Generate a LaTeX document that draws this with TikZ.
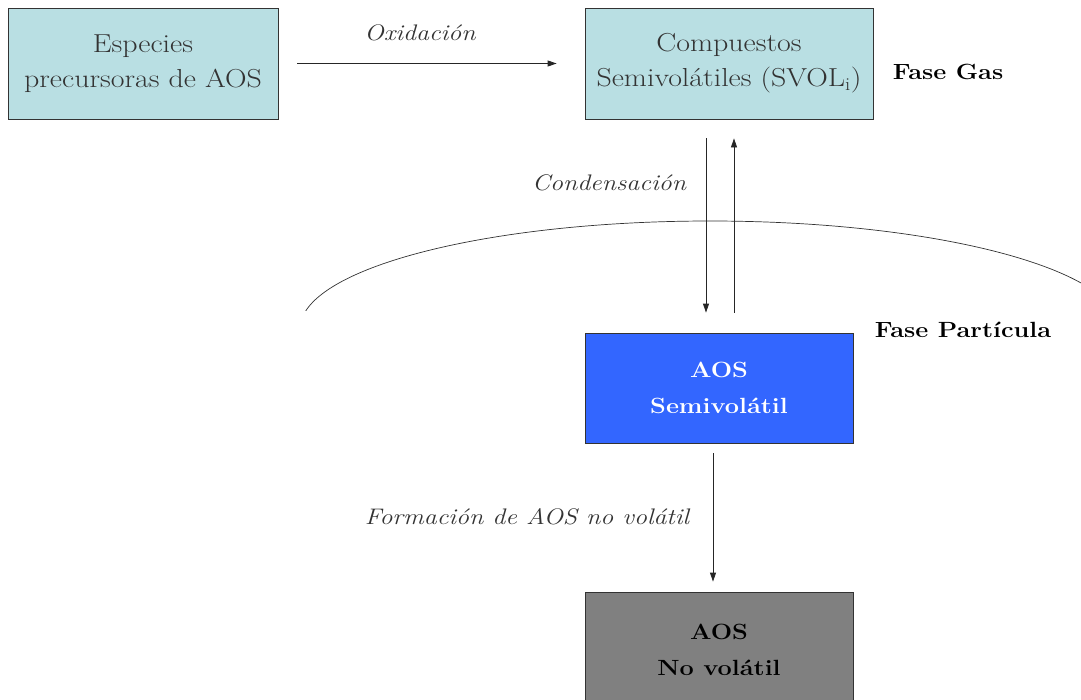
\documentclass[tikz,border=0pt]{standalone}
\usepackage{fontspec}
\setmainfont{Latin Modern Roman}[FakeStretch=1.15]
\usetikzlibrary{arrows.meta}
\definecolor{boxcyan}{HTML}{B9DFE3}
\definecolor{boxblue}{HTML}{3366FF}
\definecolor{boxgray}{HTML}{808080}
\definecolor{txtgray}{HTML}{333333}
\tikzset{
  box/.style={draw=black!80, line width=0.8pt, align=center, inner sep=0pt},
  gasbox/.style={box, fill=boxcyan, text=txtgray, font=\fontsize{26}{35}\selectfont},
  partbox/.style={box, font=\bfseries\fontsize{22}{36}\selectfont},
  arr/.style={line width=0.8pt, draw=black!85, -{Triangle[length=9pt,width=6pt]}},
  lbl/.style={text=txtgray, font=\itshape\fontsize{22.5}{26}\selectfont},
  phase/.style={text=black, font=\bfseries\fontsize{22}{26}\selectfont}
}
\begin{document}
\begin{tikzpicture}[x=1pt,y=-1pt]
\useasboundingbox (0,0) rectangle (1081,699);
\node[gasbox, minimum width=270pt, minimum height=111pt] (b1) at (143,63.5) {Especies\\precursoras de AOS};
\node[gasbox, minimum width=288pt, minimum height=111pt] (b2) at (729,63.5) {Compuestos\\Semivolátiles (SVOL\textsubscript{i})};
\node[partbox, fill=boxblue, text=white, minimum width=268pt, minimum height=110pt] (b3) at (719,388) {AOS\\Semivolátil};
\node[partbox, fill=boxgray, text=black, minimum width=268pt, minimum height=116pt] (b4) at (719,650) {AOS\\No volátil};
\begin{scope}
\clip (0,0) rectangle (1081,310);
\draw[line width=0.7pt, black!80] (710,329) ellipse [x radius=410pt, y radius=108pt];
\end{scope}
\draw[arr] ([xshift=19pt]b1.east) -- ([xshift=-28pt]b2.west);
\draw[arr] ([xshift=-23pt,yshift=-19pt]b2.south) -- ([xshift=-13pt,yshift=20pt]b3.north);
\draw[arr] ([xshift=15pt,yshift=20pt]b3.north) -- ([xshift=5pt,yshift=-19pt]b2.south);
\draw[arr] ([xshift=-6pt,yshift=-10pt]b3.south) -- ([xshift=-6pt,yshift=10pt]b4.north);
\node[lbl] (oxi) at (420,33) {Oxidación};
\node[lbl] (cond) at (609,183) {Condensación};
\node[lbl] (form) at (527,517) {Formación de AOS no volátil};
\node[phase] (gas) at (948,72) {Fase Gas};
\node[phase] (part) at (963,330) {Fase Partícula};
\end{tikzpicture}
\end{document}
